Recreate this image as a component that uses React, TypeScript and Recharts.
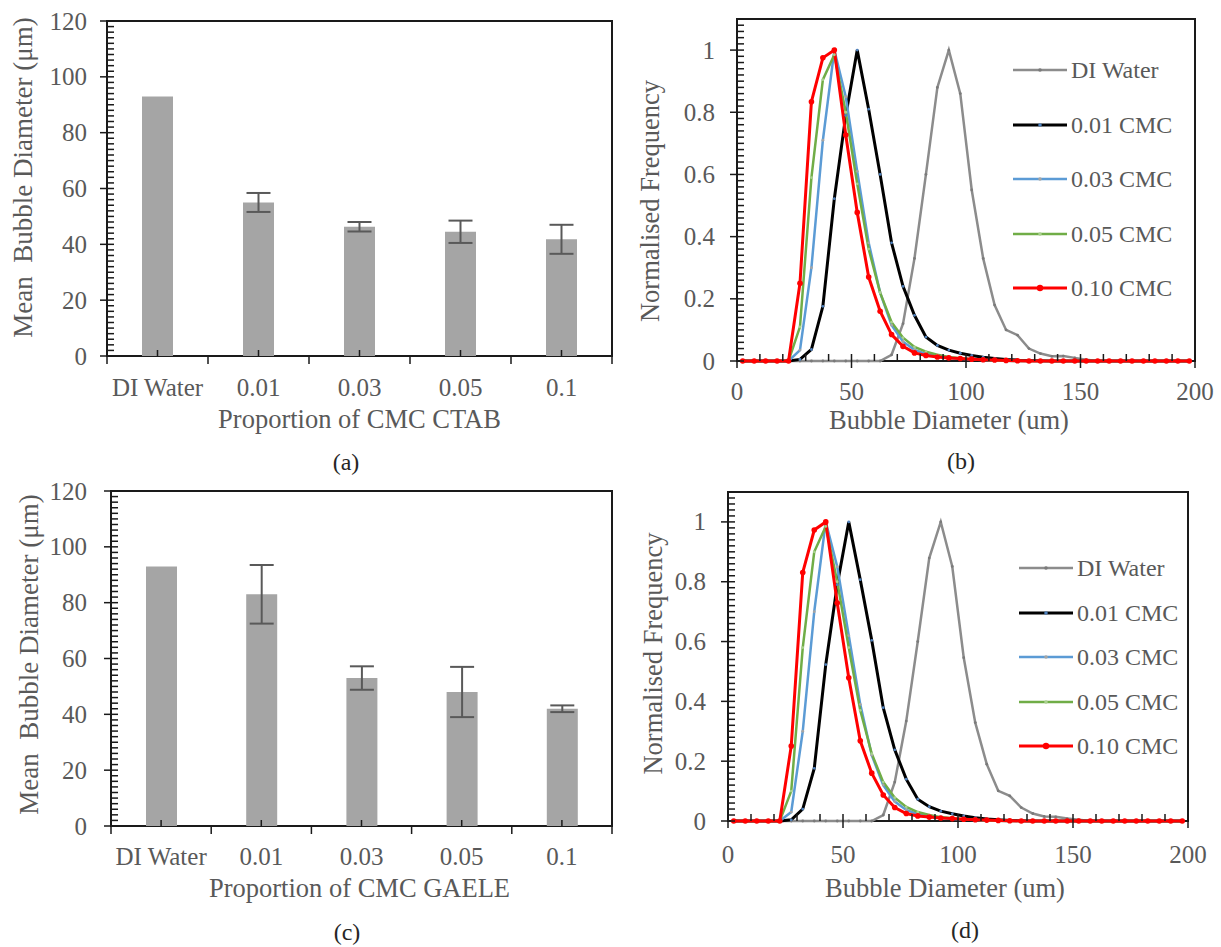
import React from "react";
import {
  BarChart,
  Bar,
  ErrorBar,
  LineChart,
  Line,
  XAxis,
  YAxis,
  ReferenceArea,
  Legend,
} from "recharts";

const FONT = "'Liberation Serif', 'Times New Roman', serif";
const TEXT = "#595959";
const INK = "#1a1a1a";

// mean bubble diameter per surfactant proportion
const categories = ["DI Water", "0.01", "0.03", "0.05", "0.1"];
const ctabMean = [93, 55, 46.3, 44.5, 41.8];
const ctabErr = [null, 3.4, 1.7, 4.0, 5.2];
const gaeleMean = [93, 83, 53, 48, 42];
const gaeleErr = [null, 10.5, 4.2, 9, 1.2];

// size distribution bins (um)
const bins = [
  2.5, 7.5, 12.5, 17.5, 22.5, 27.5, 32.5, 37.5, 42.5, 47.5,
  52.5, 57.5, 62.5, 67.5, 72.5, 77.5, 82.5, 87.5, 92.5, 97.5,
  102.5, 107.5, 112.5, 117.5, 122.5, 127.5, 132.5, 137.5, 142.5, 147.5,
  152.5, 157.5, 162.5, 167.5, 172.5, 177.5, 182.5, 187.5, 192.5, 197.5,
];

const ctabWater = [
  0, 0, 0, 0, 0, 0, 0, 0, 0, 0,
  0, 0, 0, 0.02, 0.12, 0.33, 0.6, 0.88, 1, 0.86,
  0.55, 0.33, 0.18, 0.1, 0.083, 0.04, 0.024, 0.015, 0.016, 0.01,
  0.004, 0, 0, 0, 0, 0, 0, 0, 0, 0,
];
const ctabC01 = [
  0, 0, 0, 0, 0, 0.005, 0.037, 0.176, 0.522, 0.79,
  1, 0.81, 0.6, 0.38, 0.24, 0.147, 0.077, 0.05, 0.035, 0.025,
  0.018, 0.012, 0.008, 0.005, 0.003, 0.002, 0.001, 0, 0, 0,
  0, 0, 0, 0, 0, 0, 0, 0, 0, 0,
];
const ctabC03 = [
  0, 0, 0, 0, 0, 0.035, 0.3, 0.71, 1, 0.85,
  0.61, 0.38, 0.22, 0.115, 0.062, 0.036, 0.023, 0.015, 0.01, 0.007,
  0.005, 0.003, 0.002, 0.001, 0, 0, 0, 0, 0, 0,
  0, 0, 0, 0, 0, 0, 0, 0, 0, 0,
];
const ctabC05 = [
  0, 0, 0, 0, 0, 0.11, 0.59, 0.905, 0.985, 0.8,
  0.57, 0.36, 0.22, 0.125, 0.075, 0.045, 0.03, 0.02, 0.013, 0.009,
  0.006, 0.004, 0.002, 0.001, 0, 0, 0, 0, 0, 0,
  0, 0, 0, 0, 0, 0, 0, 0, 0, 0,
];
const ctabC10 = [
  0, 0, 0, 0, 0, 0.25, 0.834, 0.975, 1, 0.727,
  0.478, 0.27, 0.16, 0.085, 0.047, 0.026, 0.018, 0.013, 0.01, 0.008,
  0.006, 0.004, 0.003, 0.002, 0.001, 0, 0, 0, 0, 0,
  0, 0, 0, 0, 0, 0, 0, 0, 0, 0,
];

const gaeleWater = [
  0, 0, 0, 0, 0, 0, 0, 0, 0, 0,
  0, 0, 0, 0.02, 0.13, 0.334, 0.6, 0.879, 1, 0.851,
  0.546, 0.329, 0.19, 0.101, 0.084, 0.045, 0.025, 0.015, 0.014, 0.008,
  0.004, 0, 0, 0, 0, 0, 0, 0, 0, 0,
];
const gaeleC01 = [
  0, 0, 0, 0, 0, 0.004, 0.04, 0.176, 0.523, 0.79,
  1, 0.807, 0.604, 0.379, 0.238, 0.14, 0.073, 0.048, 0.033, 0.024,
  0.017, 0.011, 0.007, 0.004, 0.002, 0.001, 0, 0, 0, 0,
  0, 0, 0, 0, 0, 0, 0, 0, 0, 0,
];
const gaeleC03 = [
  0, 0, 0, 0, 0, 0.03, 0.3, 0.7, 1, 0.85,
  0.62, 0.39, 0.22, 0.12, 0.065, 0.037, 0.023, 0.015, 0.01, 0.007,
  0.005, 0.003, 0.002, 0.001, 0, 0, 0, 0, 0, 0,
  0, 0, 0, 0, 0, 0, 0, 0, 0, 0,
];
const gaeleC05 = [
  0, 0, 0, 0, 0, 0.1, 0.58, 0.9, 0.985, 0.8,
  0.58, 0.37, 0.225, 0.13, 0.078, 0.047, 0.03, 0.02, 0.013, 0.009,
  0.006, 0.004, 0.002, 0.001, 0, 0, 0, 0, 0, 0,
  0, 0, 0, 0, 0, 0, 0, 0, 0, 0,
];
const gaeleC10 = [
  0, 0, 0, 0, 0, 0.251, 0.831, 0.973, 1, 0.729,
  0.479, 0.268, 0.16, 0.087, 0.045, 0.025, 0.017, 0.013, 0.01, 0.008,
  0.006, 0.004, 0.003, 0.002, 0.001, 0, 0, 0, 0, 0,
  0, 0, 0, 0, 0, 0, 0, 0, 0, 0,
];

const series = [
  { key: "water", name: "DI Water", color: "#8c8c8c", dot: "#7a7a7a", r: 1.4, width: 2.5 },
  { key: "c01", name: "0.01 CMC", color: "#000000", dot: "#4f81bd", r: 1.4, width: 3 },
  { key: "c03", name: "0.03 CMC", color: "#5b9bd5", dot: "#a5a5a5", r: 1.4, width: 2.5 },
  { key: "c05", name: "0.05 CMC", color: "#70ad47", dot: "#a9d18e", r: 1.4, width: 2.5 },
  { key: "c10", name: "0.10 CMC", color: "#ff0000", dot: "#ff0000", r: 2.8, width: 3 },
];

const steps = (max: number, step: number) =>
  Array.from({ length: Math.round(max / step) + 1 }, (_, i) => +(i * step).toFixed(3));

const barTicks = steps(120, 2);
const freqTicks = steps(1.1, 0.02);
const diamTicks = steps(200, 10);

const isMultiple = (v: number, m: number) => Math.abs(v / m - Math.round(v / m)) < 1e-6;

const barRows = (mean: number[], err: (number | null)[]) =>
  categories.map((cat, i) => ({ cat, mean: mean[i], err: err[i] }));

const distRows = (cols: number[][]) =>
  bins.map((d, i) => ({
    d,
    water: cols[0][i],
    c01: cols[1][i],
    c03: cols[2][i],
    c05: cols[3][i],
    c10: cols[4][i],
  }));

const ctabBars = barRows(ctabMean, ctabErr);
const gaeleBars = barRows(gaeleMean, gaeleErr);
const ctabDist = distRows([ctabWater, ctabC01, ctabC03, ctabC05, ctabC10]);
const gaeleDist = distRows([gaeleWater, gaeleC01, gaeleC03, gaeleC05, gaeleC10]);

const TICK_FONT = 25;
const TITLE_FONT = 26.5;
const textStyle = { fill: TEXT, fontFamily: FONT };

// y ticks: crossing major ticks with labels, short inner minor ticks
const makeYTick = (majorStep: number, gap: number) => (props: any) => {
  const { x, y, payload } = props;
  const v = payload.value;
  const major = isMultiple(v, majorStep);
  return (
    <g>
      <line x1={major ? x - 7 : x} x2={x + 7} y1={y} y2={y} stroke={INK} strokeWidth={1.5} />
      {major && (
        <text x={x - gap} y={y} dy="0.34em" textAnchor="end" fontSize={TICK_FONT} {...textStyle}>
          {+v.toFixed(1)}
        </text>
      )}
    </g>
  );
};

const makeXTick = (labelDy: number) => (props: any) => {
  const { x, y, payload } = props;
  const v = payload.value;
  const major = isMultiple(v, 50);
  return (
    <g>
      <line x1={x} x2={x} y1={y - 7} y2={major ? y + 7 : y} stroke={INK} strokeWidth={1.5} />
      {major && (
        <text x={x} y={y + labelDy} textAnchor="middle" fontSize={TICK_FONT} {...textStyle}>
          {v}
        </text>
      )}
    </g>
  );
};

const makeCategoryTick = (band: number, labelDy: number) => (props: any) => {
  const { x, y, payload, index } = props;
  return (
    <g>
      <line x1={x} x2={x} y1={y} y2={y - 6} stroke={INK} strokeWidth={1.5} />
      <line x1={x - band / 2} x2={x - band / 2} y1={y} y2={y + 8} stroke={INK} strokeWidth={1.5} />
      {index === categories.length - 1 && (
        <line x1={x + band / 2} x2={x + band / 2} y1={y} y2={y + 8} stroke={INK} strokeWidth={1.5} />
      )}
      <text x={x} y={y + labelDy} textAnchor="middle" fontSize={TICK_FONT} {...textStyle}>
        {payload.value}
      </text>
    </g>
  );
};

const yTitle = (text: string, cxOff: number, dy: number, size: number) => (props: any) => {
  const { x, y, height } = props.viewBox;
  const cx = x + cxOff;
  const cy = y + height / 2 + dy;
  return (
    <text
      x={cx}
      y={cy}
      transform={`rotate(-90 ${cx} ${cy})`}
      textAnchor="middle"
      dominantBaseline="central"
      fontSize={size}
      style={{ whiteSpace: "pre" }}
      {...textStyle}
    >
      {text}
    </text>
  );
};

const xTitle = (text: string, dx: number, baseline: number) => (props: any) => {
  const { x, y, width } = props.viewBox;
  return (
    <text x={x + width / 2 + dx} y={y + baseline} textAnchor="middle" fontSize={TITLE_FONT} {...textStyle}>
      {text}
    </text>
  );
};

type BarPanelProps = {
  data: any[];
  height: number;
  axisWidth: number;
  labelGap: number;
  title: string;
  titleDx: number;
  titleBase: number;
  tickDy: number;
  yTitleX: number;
  yTitleDy: number;
};

function BarPanel(p: BarPanelProps) {
  const width = 620;
  const plotBottom = 356;
  const margin = { top: 21, right: 8, left: 0, bottom: 0 };
  const band = (width - margin.right - p.axisWidth) / categories.length;
  return (
    <BarChart width={width} height={p.height} data={p.data} margin={margin}>
      <XAxis
        dataKey="cat"
        type="category"
        interval={0}
        height={p.height - plotBottom}
        tickSize={0}
        tickMargin={0}
        axisLine={false}
        tick={makeCategoryTick(band, p.tickDy)}
        label={xTitle(p.title, p.titleDx, p.titleBase)}
      />
      <YAxis
        type="number"
        domain={[0, 120]}
        ticks={barTicks}
        interval={0}
        width={p.axisWidth}
        tickSize={0}
        tickMargin={0}
        axisLine={false}
        tick={makeYTick(20, p.labelGap)}
        label={yTitle("Mean  Bubble Diameter (μm)", p.yTitleX, p.yTitleDy, 27)}
      />
      <ReferenceArea y1={0} y2={120} fill="none" stroke={INK} strokeWidth={2} />
      <Bar dataKey="mean" fill="#a5a5a5" barSize={31} isAnimationActive={false}>
        <ErrorBar dataKey="err" width={12} stroke="#595959" strokeWidth={2} isAnimationActive={false} />
      </Bar>
    </BarChart>
  );
}

function DistLegend({ payload, rowH }: { payload?: any[]; rowH: number }) {
  // keep the legend in series order
  const rows = series.filter((s) => (payload || []).some((e) => e.dataKey === s.key));
  return (
    <div>
      {rows.map((s) => (
        <div key={s.key} style={{ height: rowH, display: "flex", alignItems: "center" }}>
          <svg width={58} height={12} style={{ flex: "none" }}>
            <line x1={0} x2={54} y1={6} y2={6} stroke={s.color} strokeWidth={s.width} />
            <circle cx={27} cy={6} r={s.r + 0.4} fill={s.dot} />
          </svg>
          <span style={{ fontFamily: FONT, fontSize: 24, color: TEXT, lineHeight: 1, whiteSpace: "nowrap" }}>
            {s.name}
          </span>
        </div>
      ))}
    </div>
  );
}

type DistPanelProps = {
  data: any[];
  height: number;
  top: number;
  right: number;
  axisWidth: number;
  xAxisHeight: number;
  tickDy: number;
  titleDx: number;
  titleBase: number;
  yTitleX: number;
  yTitleDy: number;
  legendLeft: number;
  legendTop: number;
  rowH: number;
};

function DistPanel(p: DistPanelProps) {
  return (
    <LineChart
      width={601}
      height={p.height}
      data={p.data}
      margin={{ top: p.top, right: p.right, left: 0, bottom: 0 }}
    >
      <XAxis
        dataKey="d"
        type="number"
        domain={[0, 200]}
        ticks={diamTicks}
        interval={0}
        height={p.xAxisHeight}
        tickSize={0}
        tickMargin={0}
        axisLine={false}
        tick={makeXTick(p.tickDy)}
        label={xTitle("Bubble Diameter (um)", p.titleDx, p.titleBase)}
      />
      <YAxis
        type="number"
        domain={[0, 1.1]}
        ticks={freqTicks}
        interval={0}
        width={p.axisWidth}
        tickSize={0}
        tickMargin={0}
        axisLine={false}
        tick={makeYTick(0.2, 22)}
        label={yTitle("Normalised Frequency", p.yTitleX, p.yTitleDy, TITLE_FONT)}
      />
      <ReferenceArea y1={0} y2={1.1} fill="none" stroke={INK} strokeWidth={2} />
      {series.map((s) => (
        <Line
          key={s.key}
          type="linear"
          dataKey={s.key}
          name={s.name}
          stroke={s.color}
          strokeWidth={s.width}
          dot={{ r: s.r, fill: s.dot, stroke: s.dot, strokeWidth: 0 }}
          activeDot={false}
          isAnimationActive={false}
        />
      ))}
      <Legend
        layout="vertical"
        align="center"
        verticalAlign="middle"
        wrapperStyle={{ left: p.legendLeft, top: p.legendTop, width: 190 }}
        content={(lp: any) => <DistLegend payload={lp.payload} rowH={p.rowH} />}
      />
    </LineChart>
  );
}

function PanelTag({ x, y, text }: { x: number; y: number; text: string }) {
  return (
    <div
      style={{
        position: "absolute",
        left: x - 30,
        top: y - 14,
        width: 60,
        height: 28,
        lineHeight: "28px",
        textAlign: "center",
        fontFamily: FONT,
        fontSize: 24,
        color: "#262626",
      }}
    >
      {text}
    </div>
  );
}

export default function App() {
  return (
    <div
      style={{
        position: "absolute",
        left: 0,
        top: 0,
        width: 1221,
        height: 947,
        background: "#fff",
        overflow: "hidden",
      }}
    >
      <div style={{ position: "absolute", left: 0, top: 0 }}>
        <BarPanel
          data={ctabBars}
          height={470}
          axisWidth={107}
          labelGap={20}
          title="Proportion of CMC CTAB"
          titleDx={0}
          titleBase={72}
          tickDy={40}
          yTitleX={23}
          yTitleDy={-11}
        />
      </div>
      <div style={{ position: "absolute", left: 620, top: 0 }}>
        <DistPanel
          data={ctabDist}
          height={470}
          top={19}
          right={26}
          axisWidth={117}
          xAxisHeight={109}
          tickDy={39}
          titleDx={-17}
          titleBase={68}
          yTitleX={30}
          yTitleDy={11}
          legendLeft={393}
          legendTop={42.75}
          rowH={54.5}
        />
      </div>
      <div style={{ position: "absolute", left: 0, top: 470 }}>
        <BarPanel
          data={gaeleBars}
          height={477}
          axisWidth={111}
          labelGap={24}
          title="Proportion of CMC GAELE"
          titleDx={-2}
          titleBase={71}
          tickDy={39}
          yTitleX={29}
          yTitleDy={-4}
        />
      </div>
      <div style={{ position: "absolute", left: 620, top: 470 }}>
        <DistPanel
          data={gaeleDist}
          height={477}
          top={22}
          right={33}
          axisWidth={108}
          xAxisHeight={126}
          tickDy={42}
          titleDx={-13}
          titleBase={76}
          yTitleX={33}
          yTitleDy={-3}
          legendLeft={399}
          legendTop={75.75}
          rowH={44.5}
        />
      </div>
      <PanelTag x={346} y={462} text="(a)" />
      <PanelTag x={961} y={461} text="(b)" />
      <PanelTag x={347} y={932} text="(c)" />
      <PanelTag x={965} y={930} text="(d)" />
    </div>
  );
}
